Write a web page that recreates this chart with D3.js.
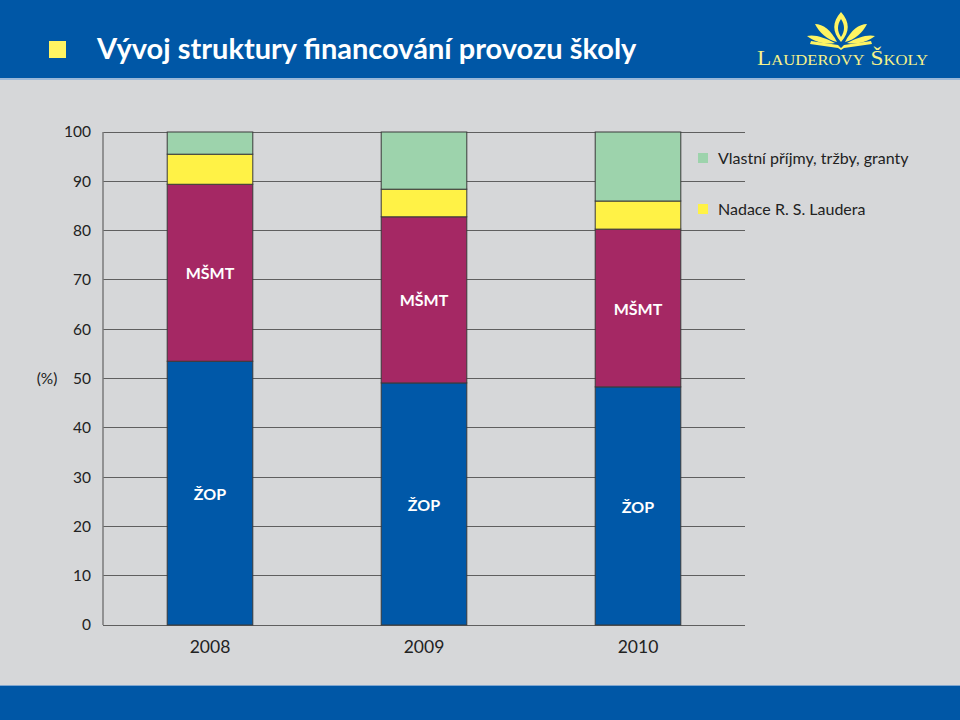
<!DOCTYPE html>
<html><head><meta charset="utf-8">
<script src="https://cdn.jsdelivr.net/npm/d3@7"></script>
<style>body{margin:0;background:#d6d7d9}svg{display:block}</style>
</head><body>
<svg id="c" width="960" height="720"></svg>
<script>
const years = ["2008", "2009", "2010"];
const zop = [53.5, 49.1, 48.3];
const msmt = [35.9, 33.7, 32.0];
const nadace = [6.1, 5.6, 5.7];
const vlastni = [4.5, 11.6, 14.0];
const yTicks = [0, 10, 20, 30, 40, 50, 60, 70, 80, 90, 100];
const seriesNames = ["ŽOP", "MŠMT", "Nadace R. S. Laudera", "Vlastní příjmy, tržby, granty"];
const seriesColors = ["#0058a8", "#a52864", "#fff246", "#9dd3ac"];
const title = "Vývoj struktury financování provozu školy";

const svg = d3.select("#c");
const font = "Lato, 'Open Sans', sans-serif";

// background & header/footer
svg.append("rect").attr("width", 960).attr("height", 720).attr("fill", "#d6d7d9");
svg.append("rect").attr("width", 960).attr("height", 78).attr("fill", "#0057a6");
svg.append("rect").attr("y", 78).attr("width", 960).attr("height", 2).attr("fill", "#9bb8d8");
svg.append("rect").attr("y", 685).attr("width", 960).attr("height", 35).attr("fill", "#0057a6");
svg.append("rect").attr("y", 685).attr("width", 960).attr("height", 1).attr("fill", "#7fa6d0");

svg.append("rect").attr("x", 49).attr("y", 41).attr("width", 17).attr("height", 17).attr("fill", "#fff462");
svg.append("text").attr("x", 97).attr("y", 59).attr("fill", "#fff")
  .attr("font-family", font).attr("font-weight", "bold").attr("font-size", 29)
  .text(title);

// logo
const logo = svg.append("g").attr("fill", "#fff462").attr("stroke", "none");
const lx = 841;
logo.append("path").attr("d", `M${lx},12 C${lx-9},22 ${lx-9},32 ${lx},42 C${lx+9},32 ${lx+9},22 ${lx},12 Z M${lx},19 C${lx-4},25 ${lx-4},31 ${lx},37 C${lx+4},31 ${lx+4},25 ${lx},19 Z`).attr("fill-rule", "evenodd");
logo.append("path").attr("d", `M${lx-4},42 C${lx-10},30 ${lx-18},24 ${lx-26},24 C${lx-22},32 ${lx-14},40 ${lx-4},42 Z`);
logo.append("path").attr("d", `M${lx+4},42 C${lx+10},30 ${lx+18},24 ${lx+26},24 C${lx+22},32 ${lx+14},40 ${lx+4},42 Z`);
logo.append("path").attr("d", `M${lx-6},43 C${lx-16},38 ${lx-26},34 ${lx-34},36 C${lx-26},42 ${lx-16},45 ${lx-6},43 Z`);
logo.append("path").attr("d", `M${lx+6},43 C${lx+16},38 ${lx+26},34 ${lx+34},36 C${lx+26},42 ${lx+16},45 ${lx+6},43 Z`);
logo.append("path").attr("d", `M${lx-30},41 L${lx-3},45 L${lx},48 L${lx+3},45 L${lx+30},41 L${lx+31},44 L${lx+3},48 L${lx},50 L${lx-3},48 L${lx-31},44 Z`);
svg.append("text").attr("x", 757).attr("y", 65).attr("fill", "#f6f28a")
  .attr("font-family", "'Liberation Serif', 'DejaVu Serif', serif").attr("font-size", 21)
  .attr("font-variant", "small-caps").attr("textLength", 171).attr("lengthAdjust", "spacingAndGlyphs")
  .text("Lauderovy Školy");

// scales
const x = d3.scaleBand().domain(years).range([103, 745]).paddingInner(0.6).paddingOuter(0.3);
const y = d3.scaleLinear().domain([0, 100]).range([625, 132]);

// grid
svg.append("g").selectAll("line").data(yTicks).join("line")
  .attr("x1", 103).attr("x2", 745).attr("y1", d => y(d)).attr("y2", d => y(d))
  .attr("stroke", "#5f5f5f").attr("stroke-width", 1).attr("shape-rendering", "crispEdges");
svg.append("line").attr("x1", 103).attr("x2", 103).attr("y1", y(100)).attr("y2", y(0))
  .attr("stroke", "#7a7a7a").attr("stroke-width", 1.5);

// y axis labels via d3 axis
const yAxis = svg.append("g").attr("transform", "translate(103,0)")
  .call(d3.axisLeft(y).tickValues(yTicks).tickSize(0).tickPadding(12));
yAxis.select(".domain").remove();
yAxis.selectAll("text").attr("font-family", font).attr("font-size", 15.5).attr("fill", "#222");
svg.append("text").attr("x", 47).attr("y", y(50)).attr("dy", "0.35em").attr("text-anchor", "middle")
  .attr("font-family", font).attr("font-size", 15.5).attr("fill", "#222").text("(%)");

// x axis labels
const xAxis = svg.append("g").attr("transform", `translate(0,${y(0)})`)
  .call(d3.axisBottom(x).tickSize(0).tickPadding(16));
xAxis.select(".domain").remove();
xAxis.selectAll("text").attr("font-family", font).attr("font-size", 17.5).attr("fill", "#222");

// stacked bars
const rows = years.map((yr, i) => ({ year: yr, s0: zop[i], s1: msmt[i], s2: nadace[i], s3: vlastni[i] }));
const stack = d3.stack().keys(["s0", "s1", "s2", "s3"])(rows);
stack.forEach((layer, li) => {
  svg.append("g").selectAll("rect").data(layer).join("rect")
    .attr("x", d => x(d.data.year)).attr("width", x.bandwidth())
    .attr("y", d => y(d[1])).attr("height", d => y(d[0]) - y(d[1]))
    .attr("fill", seriesColors[li]).attr("stroke", "#3a3a3a").attr("stroke-width", 1);
});
// in-bar labels
[0, 1].forEach(li => {
  svg.append("g").selectAll("text").data(stack[li]).join("text")
    .attr("x", d => x(d.data.year) + x.bandwidth() / 2)
    .attr("y", d => (y(d[0]) + y(d[1])) / 2 + 1).attr("dy", "0.35em")
    .attr("text-anchor", "middle").attr("fill", "#fff")
    .attr("font-family", font).attr("font-weight", "bold").attr("font-size", 16)
    .text(seriesNames[li]);
});

// legend
const leg = [{ n: seriesNames[3], c: seriesColors[3], y: 158 }, { n: seriesNames[2], c: seriesColors[2], y: 209 }];
const lg = svg.append("g").selectAll("g").data(leg).join("g");
lg.append("rect").attr("x", 698).attr("y", d => d.y - 5).attr("width", 10).attr("height", 10).attr("fill", d => d.c);
lg.append("text").attr("x", 718).attr("y", d => d.y).attr("dy", "0.35em")
  .attr("font-family", font).attr("font-size", 16).attr("fill", "#222").text(d => d.n);
</script>
</body></html>
